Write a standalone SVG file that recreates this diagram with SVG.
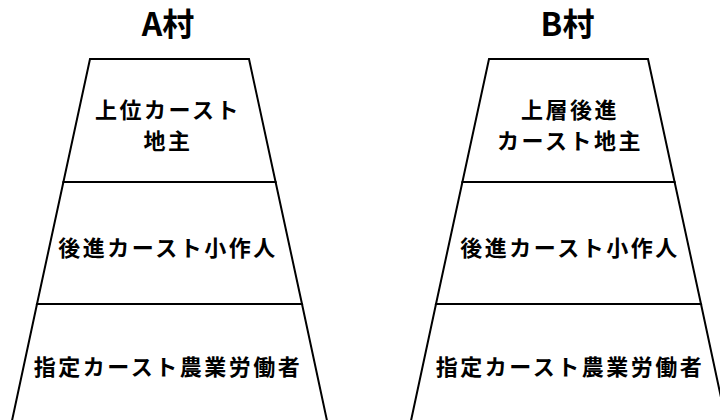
<svg xmlns="http://www.w3.org/2000/svg" width="720" height="420" viewBox="0 0 720 420">
<style>
.layer{fill:#ffffff;stroke:#000000;stroke-width:2;stroke-linejoin:miter}
.t{font-family:"Noto Sans CJK JP","Noto Sans",sans-serif;font-weight:bold;font-size:22px;letter-spacing:2.5px;fill:#000;text-anchor:middle}
.title{font-family:"Noto Sans CJK JP","Noto Sans",sans-serif;font-weight:bold;font-size:32px;fill:#000;text-anchor:middle}
</style>
<rect width="720" height="420" fill="#ffffff"/>
<g id="villageA">
  <text class="title" x="168" y="36">A村</text>
  <g id="A-top">
    <polygon class="layer" points="90,59 249,59 275.6,182 63.4,182"/>
    <text class="t" x="168" y="118">上位カースト</text>
    <text class="t" x="168" y="149">地主</text>
  </g>
  <g id="A-middle">
    <polygon class="layer" points="63.4,182 275.6,182 302,304 37,304"/>
    <text class="t" x="168" y="256">後進カースト小作人</text>
  </g>
  <g id="A-bottom">
    <polygon class="layer" points="37,304 302,304 329,430 10,430"/>
    <text class="t" x="168" y="375">指定カースト農業労働者</text>
  </g>
</g>
<g id="villageB">
  <text class="title" x="567.5" y="36">B村</text>
  <g id="B-top">
    <polygon class="layer" points="489,59 648,59 674.6,182 462.4,182"/>
    <text class="t" x="570" y="118">上層後進</text>
    <text class="t" x="570" y="149">カースト地主</text>
  </g>
  <g id="B-middle">
    <polygon class="layer" points="462.4,182 674.6,182 701,304 436,304"/>
    <text class="t" x="570" y="256">後進カースト小作人</text>
  </g>
  <g id="B-bottom">
    <polygon class="layer" points="436,304 701,304 728,430 409,430"/>
    <text class="t" x="570" y="375">指定カースト農業労働者</text>
  </g>
</g>
<g id="connectors"></g>
</svg>
